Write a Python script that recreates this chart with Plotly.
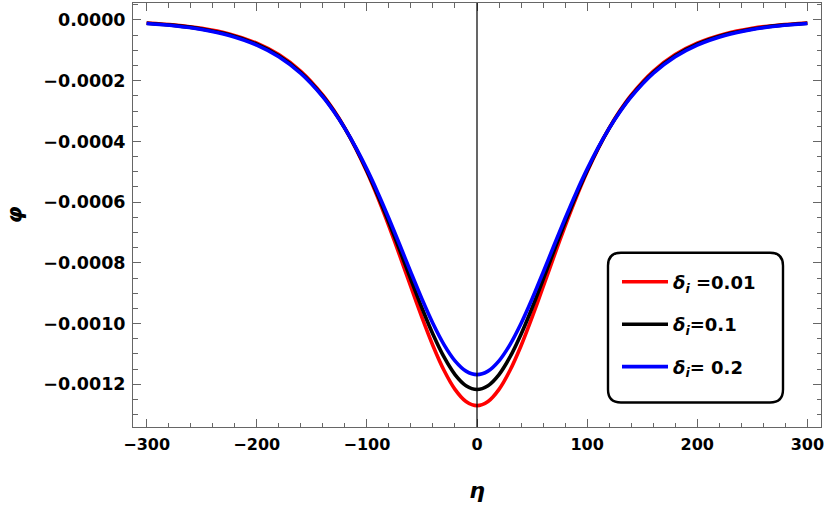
import plotly.graph_objects as go

eta = [-300, -275, -250, -225, -200, -180, -160, -140, -130, -120, -110, -100, -90, -80, -70,
       -60, -50, -40, -30, -20, -10, 0, 10, 20, 30, 40, 50, 60, 70, 80, 90, 100, 110, 120,
       130, 140, 160, 180, 200, 225, 250, 275, 300]

phi_d001 = [-0.0000098, -0.0000164, -0.0000275, -0.0000459, -0.0000764, -0.0001140, -0.0001690,
            -0.0002474, -0.0002976, -0.0003561, -0.0004236, -0.0005002, -0.0005857, -0.0006788,
            -0.0007778, -0.0008794, -0.0009794, -0.0010727, -0.0011536, -0.0012164, -0.0012563,
            -0.0012700,
            -0.0012563, -0.0012164, -0.0011536, -0.0010727, -0.0009794, -0.0008794, -0.0007778,
            -0.0006788, -0.0005857, -0.0005002, -0.0004236, -0.0003561, -0.0002976, -0.0002474,
            -0.0001690, -0.0001140, -0.0000764, -0.0000459, -0.0000275, -0.0000164, -0.0000098]

phi_d01 = [-0.0000107, -0.0000178, -0.0000294, -0.0000486, -0.0000798, -0.0001180, -0.0001730,
           -0.0002507, -0.0002999, -0.0003570, -0.0004224, -0.0004962, -0.0005779, -0.0006664,
           -0.0007598, -0.0008552, -0.0009485, -0.0010351, -0.0011099, -0.0011678, -0.0012044,
           -0.0012170,
           -0.0012044, -0.0011678, -0.0011099, -0.0010351, -0.0009485, -0.0008552, -0.0007598,
           -0.0006664, -0.0005779, -0.0004962, -0.0004224, -0.0003570, -0.0002999, -0.0002507,
           -0.0001730, -0.0001180, -0.0000798, -0.0000486, -0.0000294, -0.0000178, -0.0000107]

phi_d02 = [-0.0000116, -0.0000190, -0.0000312, -0.0000510, -0.0000828, -0.0001214, -0.0001763,
           -0.0002531, -0.0003014, -0.0003570, -0.0004203, -0.0004913, -0.0005695, -0.0006537,
           -0.0007420, -0.0008317, -0.0009190, -0.0009997, -0.0010691, -0.0011226, -0.0011564,
           -0.0011680,
           -0.0011564, -0.0011226, -0.0010691, -0.0009997, -0.0009190, -0.0008317, -0.0007420,
           -0.0006537, -0.0005695, -0.0004913, -0.0004203, -0.0003570, -0.0003014, -0.0002531,
           -0.0001763, -0.0001214, -0.0000828, -0.0000510, -0.0000312, -0.0000190, -0.0000116]

series = [phi_d001, phi_d01, phi_d02]
labels = ["<i>δ</i><sub><i>i</i></sub> =0.01",
          "<i>δ</i><sub><i>i</i></sub>=0.1",
          "<i>δ</i><sub><i>i</i></sub>= 0.2"]
colors = ["#ff0000", "#000000", "#0000ff"]

FONT = "DejaVu Sans"

fig = go.Figure()
for ys, name, c, g in zip(series, labels, colors, ["a", "b", "c"]):
    fig.add_trace(go.Scatter(x=eta, y=ys, mode="lines", name=name, legendgroup=g,
                             line=dict(color=c, width=3.6, shape="spline", smoothing=0.8)))

W, H = 830, 508
L, R, T, B = 133, 9, 3, 80.5
pw, ph = W - L - R, H - T - B

def px(xp):
    return (xp - L) / pw

def py(yp):
    return (H - B - yp) / ph

# rounded legend frame
x0, x1, y0, y1, r = 608, 783, 253, 403, 13
path = (f"M {px(x0 + r)},{py(y0)} L {px(x1 - r)},{py(y0)} Q {px(x1)},{py(y0)} {px(x1)},{py(y0 + r)} "
        f"L {px(x1)},{py(y1 - r)} Q {px(x1)},{py(y1)} {px(x1 - r)},{py(y1)} "
        f"L {px(x0 + r)},{py(y1)} Q {px(x0)},{py(y1)} {px(x0)},{py(y1 - r)} "
        f"L {px(x0)},{py(y0 + r)} Q {px(x0)},{py(y0)} {px(x0 + r)},{py(y0)} Z")

axis_common = dict(
    showgrid=False, zeroline=False, showline=True, linecolor="#666666", linewidth=1,
    mirror="allticks", ticks="inside", ticklen=8, tickwidth=1, tickcolor="#666666",
    automargin=False,
)

fig.update_layout(
    width=W, height=H,
    margin=dict(l=L, r=R, t=T, b=B, pad=0),
    paper_bgcolor="white", plot_bgcolor="white",
    xaxis=dict(range=[-312.4, 312.4], tick0=0, dtick=100,
               minor=dict(dtick=20, ticks="inside", ticklen=4.5, tickwidth=1, tickcolor="#666666"),
               ticklabelstandoff=3,
               tickfont=dict(family=FONT, size=16, color="black", weight="bold"),
               title=dict(text="<b><i>η</i></b>", font=dict(family=FONT, size=22, color="black"),
                          standoff=29),
               **axis_common),
    yaxis=dict(range=[-0.0013405, 0.0000559], tick0=0, dtick=0.0002, tickformat=".4f",
               minor=dict(dtick=0.00005, ticks="inside", ticklen=4.5, tickwidth=1, tickcolor="#666666"),
               ticklabelstandoff=3,
               tickfont=dict(family=FONT, size=17.5, color="black", weight="bold"),
               title=dict(text="<b><i>φ</i></b>", font=dict(family=FONT, size=22, color="black"),
                          standoff=14),
               **axis_common),
    showlegend=True,
    legend=dict(x=px(617), y=py(325), xanchor="left", yanchor="middle",
                bgcolor="rgba(0,0,0,0)", borderwidth=0, traceorder="grouped",
                tracegroupgap=16, itemwidth=46,
                font=dict(family=FONT, size=18, color="black", weight="bold")),
    shapes=[
        dict(type="line", xref="x", yref="paper", x0=0, x1=0, y0=0, y1=1,
             line=dict(color="black", width=1.2), layer="above"),
        dict(type="path", xref="paper", yref="paper", path=path,
             line=dict(color="black", width=2.4), fillcolor="white", layer="above"),
    ],
)

fig.write_html("out.html", config={"displayModeBar": False},
               post_script="document.body.style.margin='0px';")
